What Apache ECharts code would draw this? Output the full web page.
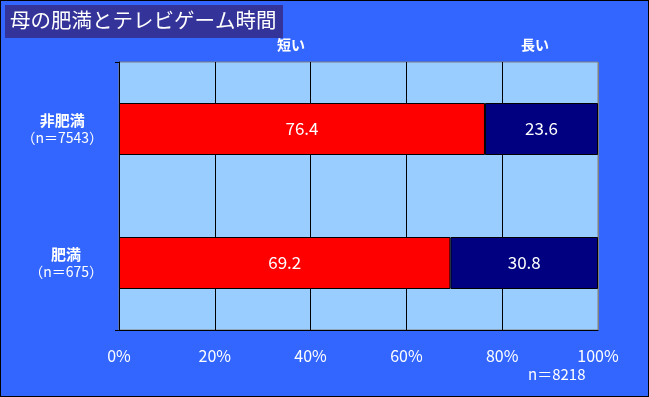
<!DOCTYPE html>
<html>
<head>
<meta charset="utf-8">
<script src="https://cdn.jsdelivr.net/npm/echarts@6/dist/echarts.min.js"></script>
<style>
    html, body { margin: 0; padding: 0; }
    #chart {
        width: 649px;
        height: 397px;
        box-sizing: border-box;
        border: 1px solid #000;
        background: #3366ff;
    }
</style>
</head>
<body>
<div id="chart"></div>
<script>
    // データ
    var groups = ['非肥満', '肥満'];
    var groupN = ['7543', '675'];
    var shortVals = [76.4, 69.2];
    var longVals = [23.6, 30.8];
    var seriesNames = ['短い', '長い'];
    var xTicks = [0, 20, 40, 60, 80, 100];

    var font = '"Noto Sans CJK JP", sans-serif';
    var myChart = echarts.init(document.getElementById('chart'));

    myChart.setOption({
        animation: false,
        grid: {
            left: 118,
            right: 50,
            top: 61,
            bottom: 66,
            show: true,
            borderColor: '#808080',
            borderWidth: 1,
            backgroundColor: '#99ccff'
        },
        xAxis: {
            type: 'value',
            min: xTicks[0],
            max: xTicks[xTicks.length - 1],
            interval: 20,
            axisLine: { show: true, lineStyle: { color: '#000' } },
            axisTick: { show: false },
            splitLine: { lineStyle: { color: ['#000', '#000', '#000', '#000', '#000', '#808080'], width: 1 } },
            axisLabel: {
                color: '#fff',
                fontFamily: font,
                fontSize: 16,
                margin: 18,
                formatter: '{value}%'
            }
        },
        yAxis: {
            type: 'category',
            inverse: true,
            data: groups,
            axisLine: { show: true, lineStyle: { color: '#000' } },
            axisTick: {
                show: true,
                length: 4,
                interval: function (index) { return index === 1; },
                lineStyle: { color: '#000' }
            },
            axisLabel: {
                margin: 16,
                color: '#fff',
                fontFamily: font,
                interval: 0,
                formatter: function (v, i) {
                    return '{a|' + v + '}\n{b|（n＝' + groupN[i] + '）}';
                },
                rich: {
                    a: { align: 'center', color: '#fff', fontSize: 15, fontWeight: 'bold', fontFamily: font, lineHeight: 17 },
                    b: { align: 'center', color: '#fff', fontSize: 14, fontFamily: font, lineHeight: 17 }
                }
            }
        },
        series: [
            {
                name: seriesNames[0],
                type: 'bar',
                stack: 'total',
                barWidth: 52,
                data: shortVals,
                itemStyle: { color: '#ff0000', borderColor: '#000', borderWidth: 1 },
                label: {
                    show: true,
                    position: 'inside',
                    color: '#fff',
                    fontSize: 17,
                    fontFamily: font,
                    formatter: function (p) { return p.value.toFixed(1); }
                }
            },
            {
                name: seriesNames[1],
                type: 'bar',
                stack: 'total',
                barWidth: 52,
                data: longVals,
                itemStyle: { color: '#000080', borderColor: '#000', borderWidth: 1 },
                label: {
                    show: true,
                    position: 'inside',
                    color: '#fff',
                    fontSize: 17,
                    fontFamily: font,
                    formatter: function (p) { return p.value.toFixed(1); }
                }
            }
        ],
        graphic: [
            {
                type: 'rect',
                left: 4,
                top: 4,
                shape: { width: 278, height: 33 },
                style: { fill: '#333399' }
            },
            {
                type: 'text',
                left: 9,
                top: 9,
                style: { text: '母の肥満とテレビゲーム時間', fill: '#fff', fontSize: 20.5, fontFamily: font }
            },
            {
                type: 'text',
                left: 276,
                top: 37,
                style: { text: seriesNames[0], fill: '#fff', fontSize: 14, fontWeight: 'bold', fontFamily: font }
            },
            {
                type: 'text',
                left: 520,
                top: 37,
                style: { text: seriesNames[1], fill: '#fff', fontSize: 14, fontWeight: 'bold', fontFamily: font }
            },
            {
                type: 'text',
                left: 527,
                top: 366,
                style: { text: 'n＝8218', fill: '#fff', fontSize: 15, fontFamily: font }
            }
        ]
    });
</script>
</body>
</html>
